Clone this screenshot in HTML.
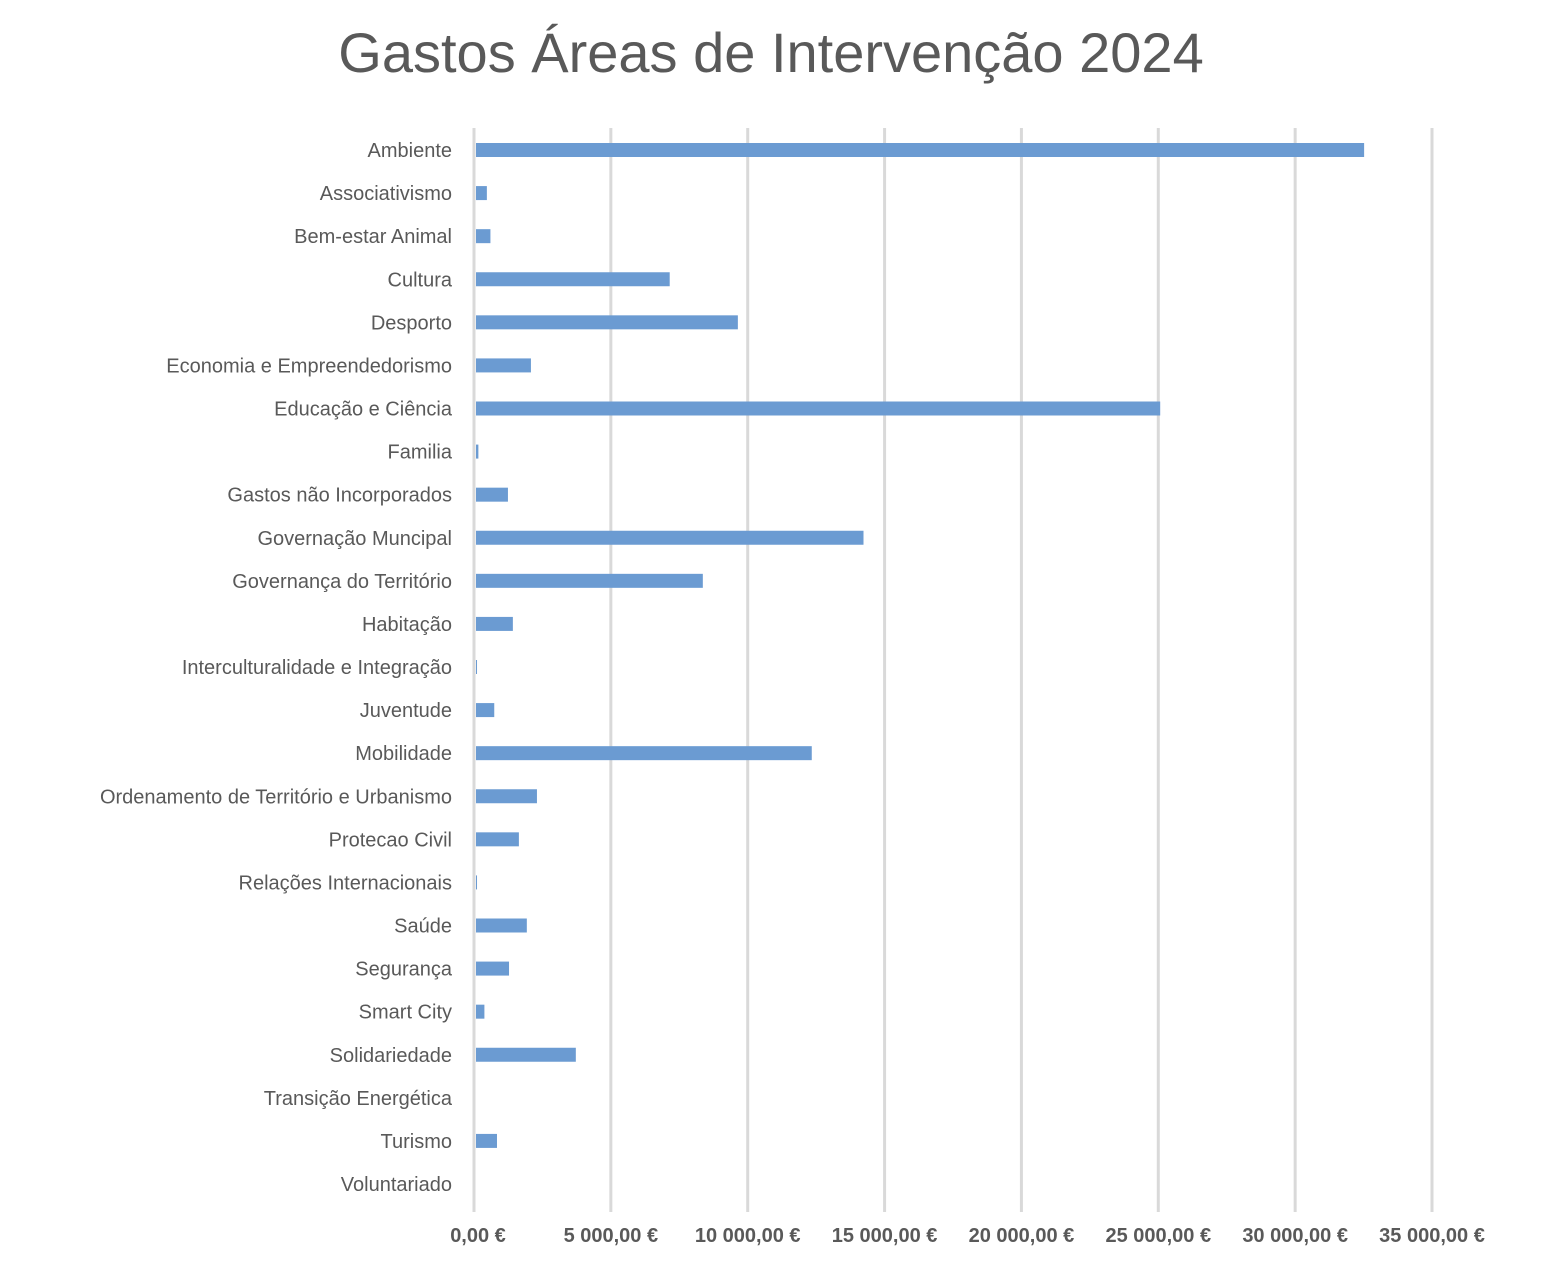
<!DOCTYPE html>
<html><head><meta charset="utf-8"><style>
body{margin:0;background:#fff;}
svg text{font-family:"Liberation Sans",sans-serif;fill:#595959;}
</style></head><body>
<svg width="1542" height="1262">
<text x="771" y="72" text-anchor="middle" font-size="56">Gastos Áreas de Intervenção 2024</text>
<g id="grid"></g><g id="bars"></g><g id="labels"></g><g id="ticks"></g>
</svg>
<script>
const categories=["Ambiente","Associativismo","Bem-estar Animal","Cultura","Desporto","Economia e Empreendedorismo","Educação e Ciência","Familia","Gastos não Incorporados","Governação Muncipal","Governança do Território","Habitação","Interculturalidade e Integração","Juventude","Mobilidade","Ordenamento de Território e Urbanismo","Protecao Civil","Relações Internacionais","Saúde","Segurança","Smart City","Solidariedade","Transição Energética","Turismo","Voluntariado"];
const values=[32520,470,600,7150,9640,2080,25070,160,1240,14230,8360,1420,110,740,12340,2300,1640,110,1930,1280,380,3720,0,840,70];
const tickValues=[0,5000,10000,15000,20000,25000,30000,35000];
const tickLabels=["0,00 €","5 000,00 €","10 000,00 €","15 000,00 €","20 000,00 €","25 000,00 €","30 000,00 €","35 000,00 €"];
const NS="http://www.w3.org/2000/svg";
const x0=474,x1=1432,maxV=35000,yTop=150,step=(1184-150)/24;
const xs=v=>x0+(x1-x0)*v/maxV;
const ys=i=>yTop+i*step;
function mk(t,a,p){const e=document.createElementNS(NS,t);for(const k in a)e.setAttribute(k,a[k]);document.getElementById(p).appendChild(e);return e;}
tickValues.forEach((v,i)=>{
 const g=mk("line",{x1:xs(v),x2:xs(v),y1:128,y2:1212,stroke:"#d9d9d9","stroke-width":3},"grid");
 
 
 const t=mk("text",{x:xs(v)+(i==0?4:0),y:1242,"text-anchor":"middle","font-size":20,"font-weight":"bold"},"ticks");
 t.textContent=tickLabels[i];
 
 
});
categories.forEach((c,i)=>{
 const b=mk("rect",{x:x0+2,y:ys(i)-7,width:Math.max(0,xs(values[i])-x0-2),height:14,fill:"#6b9bd2"},"bars");
 
 
 const t=mk("text",{x:452,y:ys(i)+7,"text-anchor":"end","font-size":20},"labels");
 t.textContent=c;
 
 
});
</script>
</body></html>
